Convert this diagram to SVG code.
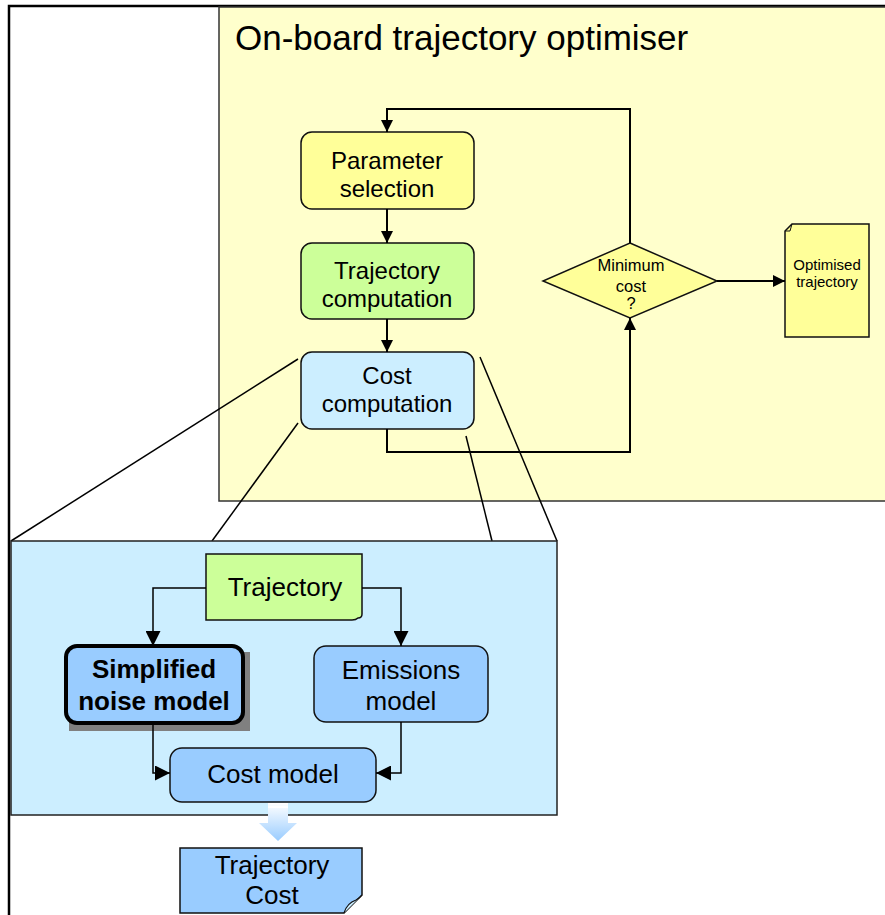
<svg xmlns="http://www.w3.org/2000/svg" width="885" height="915" viewBox="0 0 885 915">
<style>
text{font-family:"Liberation Sans",Arial,sans-serif;fill:#000;text-anchor:middle}
.n{stroke:#111;stroke-width:1.5}
.c{fill:none;stroke:#000;stroke-width:2}
.z{fill:none;stroke:#000;stroke-width:1.5}
.t20{font-size:24px}
.t22{font-size:26px}
</style>
<defs>
<marker id="ah" viewBox="0 0 10 10" refX="10" refY="5" markerWidth="12" markerHeight="12" markerUnits="userSpaceOnUse" orient="auto">
<path d="M0,0 L10,5 L0,10 Z" fill="#000"/>
</marker>
<marker id="ahb" viewBox="0 0 10 10" refX="10" refY="5" markerWidth="15" markerHeight="15" orient="auto" markerUnits="userSpaceOnUse">
<path d="M0,0 L10,5 L0,10 Z" fill="#000"/>
</marker>
<linearGradient id="bg" x1="0" y1="0" x2="0" y2="1">
<stop offset="0" stop-color="#ffffff"/>
<stop offset="1" stop-color="#99ccff"/>
</linearGradient>
</defs>
<rect width="885" height="915" fill="#fff"/>
<path d="M9,915 V6 H885" fill="none" stroke="#000" stroke-width="2.5"/>
<g id="optimiser-frame">
<rect x="219" y="7" width="670" height="494" fill="#ffffcc" stroke="#333" stroke-width="1.5"/>
<text x="235" y="50" style="font-size:35px;text-anchor:start">On-board trajectory optimiser</text>
</g>
<g id="zoom-lines">
<line class="z" x1="298" y1="359" x2="11" y2="541"/>
<line class="z" x1="298" y1="423" x2="212" y2="541"/>
<line class="z" x1="480" y1="357" x2="557" y2="541"/>
<line class="z" x1="466" y1="436" x2="492" y2="541"/>
</g>
<g id="cost-frame">
<rect x="11" y="541" width="546" height="274" fill="#cceeff" stroke="#222" stroke-width="1.5"/>
</g>
<g id="param-selection">
<rect class="n" x="301" y="132" width="173" height="77" rx="11" fill="#ffff99"/>
<text class="t20" x="387" y="169">Parameter</text>
<text class="t20" x="387" y="197">selection</text>
</g>
<g id="trajectory-computation">
<rect class="n" x="301" y="243" width="173" height="76" rx="11" fill="#ccff99"/>
<text class="t20" x="387" y="279">Trajectory</text>
<text class="t20" x="387" y="307">computation</text>
</g>
<g id="cost-computation">
<rect class="n" x="301" y="352" width="173" height="77" rx="11" fill="#cceeff"/>
<text class="t20" x="387" y="384">Cost</text>
<text class="t20" x="387" y="412">computation</text>
</g>
<g id="minimum-cost">
<path class="n" d="M630,243 L717,281 L630,318 L543,281 Z" fill="#ffff99"/>
<text x="631" y="271" style="font-size:16.5px">Minimum</text>
<text x="631" y="292" style="font-size:16.5px">cost</text>
<text x="631" y="309" style="font-size:16.5px">?</text>
</g>
<g id="optimised-trajectory">
<path class="n" d="M792,224 H869 V337 H785 V231 Z" fill="#ffff99"/>
<path d="M792,224 L790,231 L785,231" fill="none" stroke="#111" stroke-width="1"/>
<text x="827" y="270" style="font-size:15px">Optimised</text>
<text x="827" y="287" style="font-size:15px">trajectory</text>
</g>
<g id="trajectory">
<path class="n" d="M206,554 H362 V614 Q362,618 358,618 Q356,620 352,620 H206 Z" fill="#ccff99"/>
<text class="t22" x="285" y="596">Trajectory</text>
</g>
<g id="noise-model">
<rect x="69" y="652" width="181" height="79" fill="#808080"/>
<rect x="66" y="646" width="177" height="77" rx="11" fill="#99ccff" stroke="#000" stroke-width="4"/>
<text class="t22" x="154" y="678" style="font-weight:bold">Simplified</text>
<text class="t22" x="154" y="710" style="font-weight:bold">noise model</text>
</g>
<g id="emissions-model">
<rect class="n" x="314" y="646" width="174" height="76" rx="12" fill="#99ccff"/>
<text class="t22" x="401" y="679">Emissions</text>
<text class="t22" x="401" y="710">model</text>
</g>
<g id="cost-model">
<rect class="n" x="170" y="748" width="206" height="54" rx="12" fill="#99ccff"/>
<text class="t22" x="273" y="783">Cost model</text>
</g>
<g id="output-arrow">
<path d="M268,803 H288 V823 H297 L278,841 L259,823 H268 Z" fill="url(#bg)"/>
<line x1="268" y1="807" x2="288" y2="807" stroke="#fff" stroke-width="2"/>
</g>
<g id="trajectory-cost">
<path class="n" d="M180,848 H362 V895 L344,913 H180 Z" fill="#99ccff"/>
<path d="M344,913 Q347,903 356,900 Q360,898 362,895" fill="#cceeff" stroke="#111" stroke-width="1.2"/>
<text class="t22" x="272" y="874">Trajectory</text>
<text class="t22" x="272" y="904">Cost</text>
</g>
<g id="connectors">
<line class="c" x1="387" y1="209" x2="387" y2="243" marker-end="url(#ah)"/>
<line class="c" x1="387" y1="319" x2="387" y2="352" marker-end="url(#ah)"/>
<path class="c" d="M387,429 V452 H630 V318" marker-end="url(#ah)"/>
<path class="c" d="M630,243 V109 H387 V132" marker-end="url(#ah)"/>
<line class="c" x1="717" y1="281" x2="785" y2="281" marker-end="url(#ah)"/>
<path class="z" d="M206,588 H153 V646" marker-end="url(#ahb)"/>
<path class="z" d="M362,588 H401 V646" marker-end="url(#ahb)"/>
<path class="z" d="M153,723 V773 H170" marker-end="url(#ahb)"/>
<path class="z" d="M401,722 V773 H376" marker-end="url(#ahb)"/>
</g>
</svg>
